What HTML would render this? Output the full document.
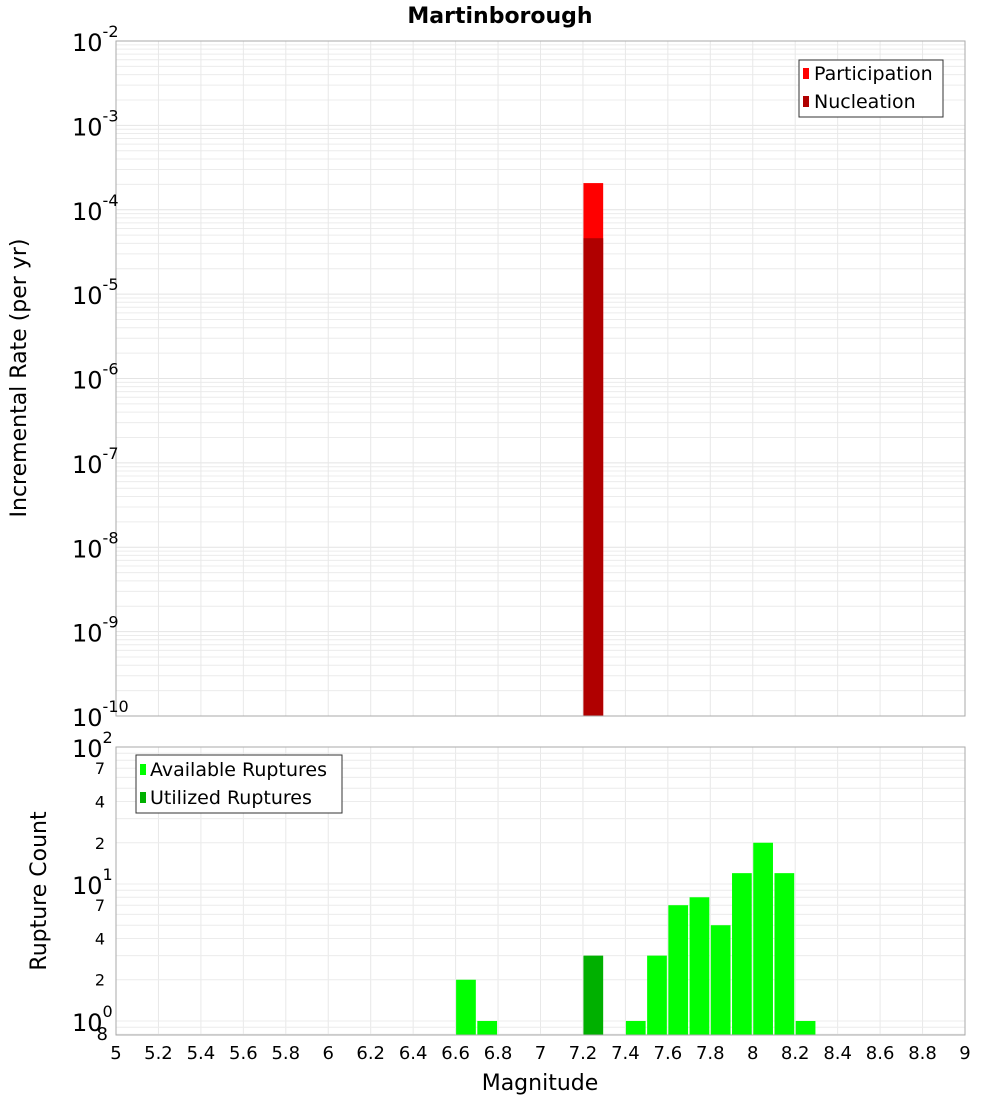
<!DOCTYPE html>
<html><head><meta charset="utf-8"><style>
body{margin:0;background:#fff}
svg text{font-family:"DejaVu Sans","Liberation Sans",sans-serif;fill:#000}
</style></head><body>
<svg id="c" width="1000" height="1100" xmlns="http://www.w3.org/2000/svg">
<text x="500" y="23" text-anchor="middle" font-size="22" font-weight="bold">Martinborough</text>
<text transform="translate(26,378) rotate(-90)" text-anchor="middle" font-size="22">Incremental Rate (per yr)</text>
<text transform="translate(46,891) rotate(-90)" text-anchor="middle" font-size="22">Rupture Count</text>
<text x="540" y="1090" text-anchor="middle" font-size="22">Magnitude</text>
<g id="g"></g>
</svg>
<script>
const rateMags=[7.25];
const participation=[2.07e-4];
const nucleation=[4.6e-5];
const countMags=[6.65,6.75,7.45,7.55,7.65,7.75,7.85,7.95,8.05,8.15,8.25];
const available=[2,1,1,3,7,8,5,12,20,12,1];
const utilizedMags=[7.25];
const utilized=[3];
const xTicks=[5,5.2,5.4,5.6,5.8,6,6.2,6.4,6.6,6.8,7,7.2,7.4,7.6,7.8,8,8.2,8.4,8.6,8.8,9];
const topExps=[-10,-9,-8,-7,-6,-5,-4,-3,-2];
const botMinor=[7,4,2];

const NS="http://www.w3.org/2000/svg";
const g=document.getElementById('g');
function el(t,a,txt){const e=document.createElementNS(NS,t);for(const k in a)e.setAttribute(k,a[k]);if(txt!==undefined)e.textContent=txt;g.appendChild(e);return e;}
const L=116,R=965;
const X=m=>L+(m-5)/4*(R-L);
const T0=41,T1=716;
const yT=v=>T1-(Math.log10(v)+10)/8*(T1-T0);
const B0=747,B1=1035,bMin=0.79,bMax=100;
const yB=v=>B1-(Math.log10(v)-Math.log10(bMin))/(Math.log10(bMax)-Math.log10(bMin))*(B1-B0);
const bw=(R-L)/40;

// top panel
let e=el('rect',{x:L,y:T0,width:R-L,height:T1-T0,fill:'#fff',stroke:'none'});

for(let d=-10;d<-2;d++)for(let k=2;k<=9;k++){const y=yT(k*Math.pow(10,d));
 e=el('line',{x1:L,x2:R,y1:y,y2:y,stroke:'#ececec','stroke-width':1});}
for(const d of topExps){const y=yT(Math.pow(10,d));
 e=el('line',{x1:L,x2:R,y1:y,y2:y,stroke:'#e4e4e4','stroke-width':1});}
for(const t of xTicks){const x=X(t);
 e=el('line',{x1:x,x2:x,y1:T0,y2:T1,stroke:'#e8e8e8'});
 e=el('line',{x1:x,x2:x,y1:B0,y2:B1,stroke:'#e8e8e8'});}
rateMags.forEach((m,i)=>{
 const x=X(m-0.05)+0.5;
 e=el('rect',{x:x,y:yT(participation[i]),width:bw-1.5,height:T1-yT(participation[i]),fill:'#ff0000'});
 e=el('rect',{x:x,y:yT(nucleation[i]),width:bw-1.5,height:T1-yT(nucleation[i]),fill:'#b00000'});
});
e=el('rect',{x:L,y:T0,width:R-L,height:T1-T0,fill:'none',stroke:'#aaa'});
for(const d of topExps){const y=yT(Math.pow(10,d));
 e=el('text',{x:72,y:y+10,'font-size':24});
 e.innerHTML='10<tspan dy="-14" font-size="16">'+d+'</tspan>';}
// top legend
e=el('rect',{x:799,y:60,width:144,height:57,fill:'#fff',stroke:'#333'});
e=el('rect',{x:803,y:68,width:6,height:11,fill:'#ff0000'});
e=el('text',{x:814,y:80,'font-size':19},'Participation');
e=el('rect',{x:803,y:96,width:6,height:11,fill:'#b00000'});
e=el('text',{x:814,y:108,'font-size':19},'Nucleation');

// bottom panel
for(let d=-1;d<2;d++)for(let k=1;k<=9;k++){const v=k*Math.pow(10,d);if(v<bMin||v>bMax)continue;const y=yB(v);
 e=el('line',{x1:L,x2:R,y1:y,y2:y,stroke:'#ececec'});}
countMags.forEach((m,i)=>{const x=X(m-0.05)+0.5,y=yB(available[i]);
 e=el('rect',{x:x,y:y,width:bw-1.5,height:B1-y,fill:'#00ff00'});});
utilizedMags.forEach((m,i)=>{const x=X(m-0.05)+0.5,y=yB(utilized[i]);
 e=el('rect',{x:x,y:y,width:bw-1.5,height:B1-y,fill:'#00b000'});});
e=el('rect',{x:L,y:B0,width:R-L,height:B1-B0,fill:'none',stroke:'#aaa'});
[0,1,2].forEach(d=>{const y=yB(Math.pow(10,d));
 e=el('text',{x:72,y:y+10,'font-size':24});
 e.innerHTML='10<tspan dy="-14" font-size="16">'+d+'</tspan>';});
[0,1].forEach(d=>botMinor.forEach(k=>{const y=yB(k*Math.pow(10,d));
 e=el('text',{x:105,y:y+6,'font-size':16,'text-anchor':'end'},String(k));}));
e=el('text',{x:108,y:1040,'font-size':18,'text-anchor':'end'},'8');
for(const t of xTicks){
 e=el('text',{x:X(t),y:1059,'font-size':18,'text-anchor':'middle'},String(t));}
// bottom legend
e=el('rect',{x:136,y:755,width:206,height:58,fill:'#fff',stroke:'#333'});
e=el('rect',{x:140,y:764,width:6,height:11,fill:'#00ff00'});
e=el('text',{x:150,y:776,'font-size':19},'Available Ruptures');
e=el('rect',{x:140,y:792,width:6,height:11,fill:'#00b000'});
e=el('text',{x:150,y:804,'font-size':19},'Utilized Ruptures');
</script>
</body></html>
